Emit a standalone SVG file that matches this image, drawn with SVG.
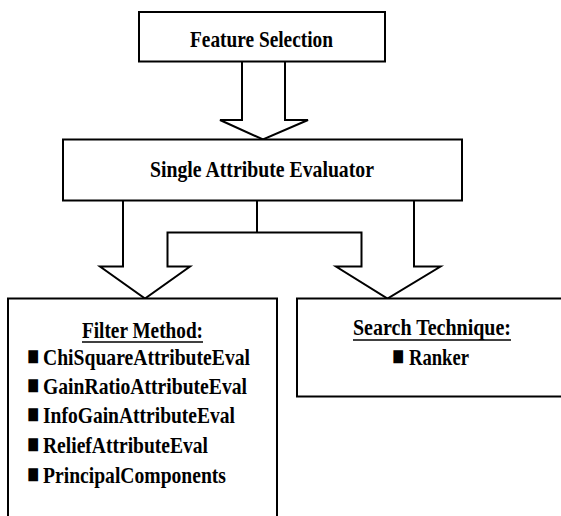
<svg xmlns="http://www.w3.org/2000/svg" width="561" height="516" viewBox="0 0 561 516">
<style>
.box{fill:#fff;stroke:#000;stroke-width:2}
.conn{fill:none;stroke:#000;stroke-width:2;stroke-linejoin:miter}
.t{font-family:"Liberation Serif","Times New Roman",serif;font-weight:bold;font-size:24px;fill:#000}
.b{font-family:"Liberation Sans",Arial,sans-serif;font-size:20px;fill:#000}
.u{stroke:#000;stroke-width:1.5}
</style>
<rect width="561" height="516" fill="#fff"/>
<g id="connectors">
<path class="conn" d="M242,61.5 V120 H220 L263,139.5 L308,120 H285 V61.5"/>
<path class="conn" d="M123,200.5 V266.5 H100 L145,298.5 L190,266.5 H167.5 V232.5 H361.5 V266.5 H336 L387.5,298.5 L440.5,266.5 H414 V200.5"/>
<path class="conn" d="M257,200.5 V232.5"/>
</g>
<g id="feature-selection">
<rect class="box" x="139" y="12" width="246" height="49.5"/>
<text class="t" x="190" y="47" textLength="143" lengthAdjust="spacingAndGlyphs">Feature Selection</text>
</g>
<g id="single-attribute-evaluator">
<rect class="box" x="63" y="139.5" width="399" height="61"/>
<text class="t" x="150" y="177" textLength="224" lengthAdjust="spacingAndGlyphs">Single Attribute Evaluator</text>
</g>
<g id="filter-method">
<rect class="box" x="8" y="298.5" width="269" height="230"/>
<text class="t" x="82" y="338" textLength="121" lengthAdjust="spacingAndGlyphs">Filter Method:</text>
<line class="u" x1="82" y1="342" x2="203" y2="342"/>
<text class="b" transform="translate(27,365) scale(1,1.35)">■</text>
<text class="t" x="43" y="365" textLength="207" lengthAdjust="spacingAndGlyphs">ChiSquareAttributeEval</text>
<text class="b" transform="translate(27,394) scale(1,1.35)">■</text>
<text class="t" x="43" y="394" textLength="204" lengthAdjust="spacingAndGlyphs">GainRatioAttributeEval</text>
<text class="b" transform="translate(27,423) scale(1,1.35)">■</text>
<text class="t" x="43" y="423" textLength="192" lengthAdjust="spacingAndGlyphs">InfoGainAttributeEval</text>
<text class="b" transform="translate(27,453) scale(1,1.35)">■</text>
<text class="t" x="43" y="453" textLength="165" lengthAdjust="spacingAndGlyphs">ReliefAttributeEval</text>
<text class="b" transform="translate(27,483) scale(1,1.35)">■</text>
<text class="t" x="43" y="483" textLength="183" lengthAdjust="spacingAndGlyphs">PrincipalComponents</text>
</g>
<g id="search-technique">
<rect class="box" x="297" y="298.5" width="280" height="98"/>
<text class="t" x="353" y="335" textLength="158" lengthAdjust="spacingAndGlyphs">Search Technique:</text>
<line class="u" x1="353" y1="340" x2="511" y2="340"/>
<text class="b" transform="translate(392,365) scale(1,1.35)">■</text>
<text class="t" x="409" y="365" textLength="60" lengthAdjust="spacingAndGlyphs">Ranker</text>
</g>
</svg>
